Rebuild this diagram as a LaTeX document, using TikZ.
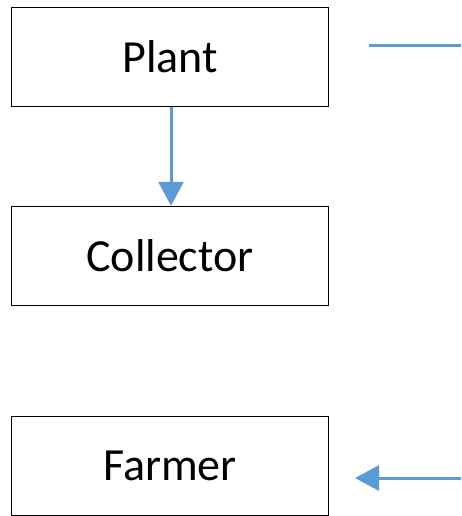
\documentclass[tikz,border=0pt]{standalone}
\usepackage{fontspec}
\setmainfont{Carlito}
\usepackage{xcolor}
\usetikzlibrary{arrows.meta,positioning}
\definecolor{flowblue}{HTML}{5B9BD5}
\begin{document}
\begin{tikzpicture}[x=1pt, y=-1pt,
    stage/.style={draw=black, line width=1.5pt, minimum width=317pt, minimum height=99pt,
        inner sep=0pt, font=\fontsize{46}{54}\selectfont},
    flow/.style={draw=flowblue, line width=3pt, -{Triangle[length=24pt, width=25pt]}}]
    \useasboundingbox (0,0) rectangle (461,516);

    % Boxes
    \node[stage] (plant) at (170, 57) {Plant};
    \node[stage] (collector) at (170, 256) {Collector};
    \node[stage] (farmer) at (170, 466) {Farmer};

    % Free ends
    \coordinate (outA) at (369, 46);
    \coordinate (outB) at (461, 46);
    \coordinate (inA) at (461, 478);
    \coordinate (inB) at (355, 478);

    % Connectors
    \draw[flow] (plant.south -| 171,0) -- (collector.north -| 171,0);
    \draw[draw=flowblue, line width=3pt] (outA) -- (outB);
    \draw[flow] (inA) -- (inB);
\end{tikzpicture}
\end{document}
